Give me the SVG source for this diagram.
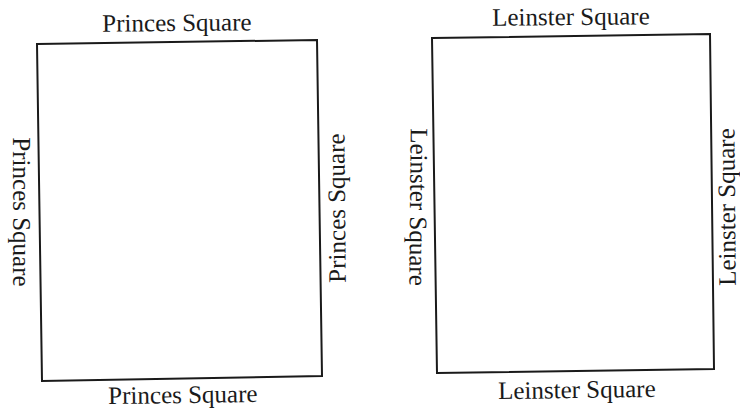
<svg xmlns="http://www.w3.org/2000/svg" width="740" height="409" viewBox="0 0 740 409">
<style>
.sq{fill:none;stroke:#1a1a1a;stroke-width:2;stroke-linejoin:miter}
.lb{font-family:"Liberation Serif","Times New Roman",serif;font-size:25px;fill:#1a1a1a;text-anchor:middle}
</style>
<rect width="740" height="409" fill="#ffffff"/>
<g id="princes">
<polygon class="sq" points="37,44 317,40 322,376 42,381"/>
<text class="lb" x="177" y="31" transform="rotate(-0.5 177 31)">Princes Square</text>
<text class="lb" x="183" y="403" transform="rotate(-0.8 183 403)">Princes Square</text>
<text class="lb" transform="translate(13 212) rotate(90)">Princes Square</text>
<text class="lb" transform="translate(345 208) rotate(-90.5)">Princes Square</text>
</g>
<g id="leinster">
<polygon class="sq" points="432,38 710,34 714,369 437,373"/>
<text class="lb" x="571" y="25" transform="rotate(-0.5 571 25)">Leinster Square</text>
<text class="lb" x="577" y="398" transform="rotate(-0.8 577 398)">Leinster Square</text>
<text class="lb" transform="translate(410 207) rotate(90.5)">Leinster Square</text>
<text class="lb" transform="translate(735 207) rotate(-90.5)">Leinster Square</text>
</g>
<g id="connectors"/>
</svg>
